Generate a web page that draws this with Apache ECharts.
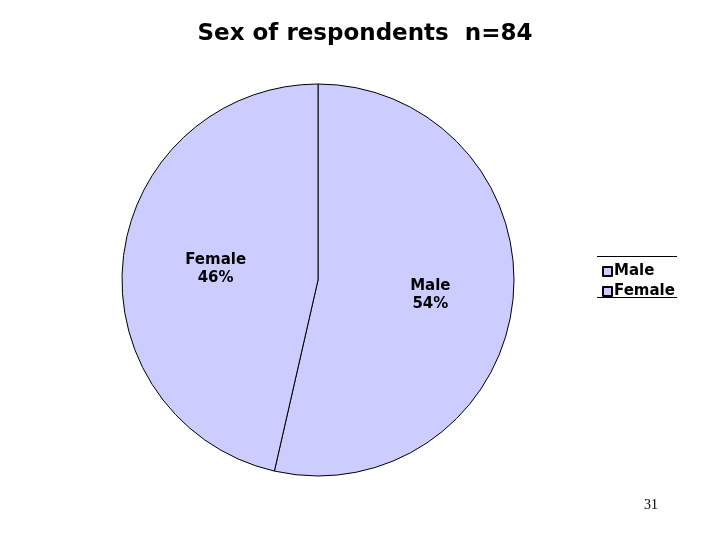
<!DOCTYPE html>
<html>
<head>
<meta charset="utf-8">
<script src="https://cdn.jsdelivr.net/npm/echarts@6/dist/echarts.min.js"></script>
<style>
  html, body { margin: 0; padding: 0; background: #fff; }
  #chart { width: 720px; height: 540px; }
</style>
</head>
<body>
<div id="chart"></div>
<script>
  // respondents by sex, n=84
  const categories = ['Male', 'Female'];
  const counts = [45, 39];
  const titleText = 'Sex of respondents  n=84';
  const pageNumber = '31';

  const chart = echarts.init(document.getElementById('chart'));
  const fontFam = 'DejaVu Sans, Verdana, sans-serif';

  const seriesData = categories.map((name, i) => {
    return {
      name: name,
      value: counts[i],
      label: { offset: i === 0 ? [12, 4] : [-2, 0] }
    };
  });

  const option = {
    animation: false,
    backgroundColor: '#fff',
    title: {
      text: titleText,
      left: 360,
      top: 18,
      textAlign: 'center',
      textStyle: { fontFamily: fontFam, fontSize: 23, fontWeight: 'bold', color: '#000' }
    },
    legend: {
      orient: 'vertical',
      left: 597,
      top: 259,
      itemWidth: 9,
      itemHeight: 9,
      itemGap: 5,
      icon: 'rect',
      data: categories,
      textStyle: { fontFamily: fontFam, fontSize: 15, fontWeight: 'bold', color: '#000', padding: [0, 0, 0, -3] }
    },
    graphic: [
      { type: 'line', shape: { x1: 597, y1: 256.5, x2: 677, y2: 256.5 }, style: { stroke: '#000', lineWidth: 1 } },
      { type: 'line', shape: { x1: 597, y1: 297.5, x2: 677, y2: 297.5 }, style: { stroke: '#000', lineWidth: 1 } },
      {
        type: 'text', left: 644, top: 498,
        style: { text: pageNumber, font: '14px "Liberation Serif", serif', fill: '#000' }
      }
    ],
    series: [{
      type: 'pie',
      center: [318, 280],
      radius: [0, 196],
      startAngle: 90,
      clockwise: true,
      color: ['#ccccff', '#ccccff'],
      itemStyle: { borderColor: '#000', borderWidth: 1 },
      label: {
        position: 'inside',
        fontFamily: fontFam,
        fontSize: 15,
        fontWeight: 'bold',
        color: '#000',
        lineHeight: 18,
        align: 'center'
      },
      labelLine: { show: false },
      emphasis: { disabled: true },
      data: seriesData
    }]
  };

  // percent shown rounded to whole numbers
  option.series[0].label.formatter = function (p) {
    return p.name + '\n' + Math.round(p.percent) + '%';
  };

  chart.setOption(option);
</script>
</body>
</html>
